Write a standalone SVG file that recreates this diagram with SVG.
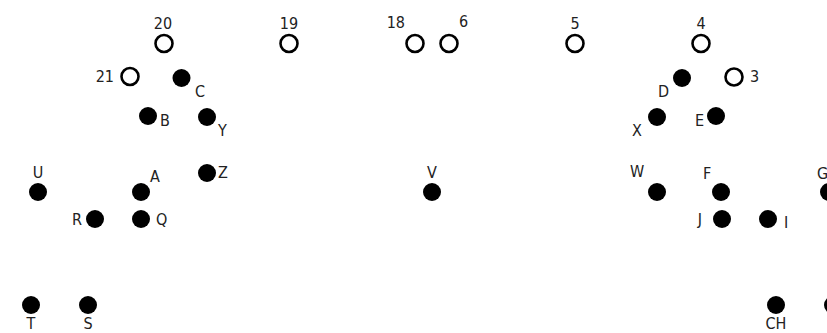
<svg xmlns="http://www.w3.org/2000/svg" width="827" height="333" viewBox="0 0 827 333">
<style>
.o{fill:#fff;stroke:#000;stroke-width:2.6}
.f{fill:#000}
text{font-family:"DejaVu Sans Condensed","DejaVu Sans",Roboto,sans-serif;font-size:16px;fill:#222}
.m{text-anchor:middle}
.e{text-anchor:end}
</style>
<rect width="827" height="333" fill="#fff"/>
<g id="connectors"></g>
<g id="n20"><circle class="o" cx="164" cy="43.5" r="8.5"/><text class="m" x="163" y="29">20</text></g>
<g id="n19"><circle class="o" cx="289" cy="43.5" r="8.5"/><text class="m" x="289" y="29">19</text></g>
<g id="n18"><circle class="o" cx="415" cy="43.5" r="8.5"/><text class="e" x="405" y="28">18</text></g>
<g id="n6"><circle class="o" cx="449" cy="43.5" r="8.5"/><text x="459" y="27">6</text></g>
<g id="n5"><circle class="o" cx="575" cy="43.5" r="8.5"/><text class="m" x="575" y="29">5</text></g>
<g id="n4"><circle class="o" cx="701" cy="43.5" r="8.5"/><text class="m" x="701" y="29">4</text></g>
<g id="n21"><circle class="o" cx="130" cy="76.5" r="8.5"/><text class="e" x="114" y="82">21</text></g>
<g id="n3"><circle class="o" cx="734" cy="77" r="8.5"/><text x="750" y="82">3</text></g>
<g id="nC"><circle class="f" cx="181.5" cy="78" r="9"/><text x="195" y="97">C</text></g>
<g id="nD"><circle class="f" cx="682" cy="78" r="9"/><text x="658" y="97">D</text></g>
<g id="nB"><circle class="f" cx="148" cy="116" r="9"/><text x="160" y="126">B</text></g>
<g id="nY"><circle class="f" cx="207" cy="117" r="9"/><text x="218" y="136">Y</text></g>
<g id="nX"><circle class="f" cx="657" cy="117" r="9"/><text x="632" y="136">X</text></g>
<g id="nE"><circle class="f" cx="716" cy="116" r="9"/><text class="e" x="704" y="126">E</text></g>
<g id="nU"><circle class="f" cx="38" cy="192" r="9"/><text class="m" x="38" y="178">U</text></g>
<g id="nA"><circle class="f" cx="141" cy="192" r="9"/><text x="150" y="182">A</text></g>
<g id="nZ"><circle class="f" cx="207" cy="173" r="9"/><text x="218" y="178">Z</text></g>
<g id="nR"><circle class="f" cx="95" cy="219" r="9"/><text class="e" x="82" y="225">R</text></g>
<g id="nQ"><circle class="f" cx="141" cy="219" r="9"/><text x="156" y="225">Q</text></g>
<g id="nV"><circle class="f" cx="432" cy="192" r="9"/><text class="m" x="432" y="178">V</text></g>
<g id="nW"><circle class="f" cx="657" cy="192" r="9"/><text x="630" y="177">W</text></g>
<g id="nF"><circle class="f" cx="721" cy="192" r="9"/><text x="703" y="179">F</text></g>
<g id="nG"><circle class="f" cx="829" cy="192" r="9"/><text x="817" y="179">G</text></g>
<g id="nJ"><circle class="f" cx="722" cy="219" r="9"/><text class="e" x="702" y="225">J</text></g>
<g id="nI"><circle class="f" cx="768" cy="219" r="9"/><text x="784" y="228">I</text></g>
<g id="nT"><circle class="f" cx="31" cy="305" r="9"/><text class="m" x="31" y="329">T</text></g>
<g id="nS"><circle class="f" cx="88" cy="305" r="9"/><text class="m" x="88" y="329">S</text></g>
<g id="nCH"><circle class="f" cx="776" cy="305" r="9"/><text class="m" x="776" y="329">CH</text></g>
<g id="nK"><circle class="f" cx="833" cy="305" r="9"/></g>
</svg>
